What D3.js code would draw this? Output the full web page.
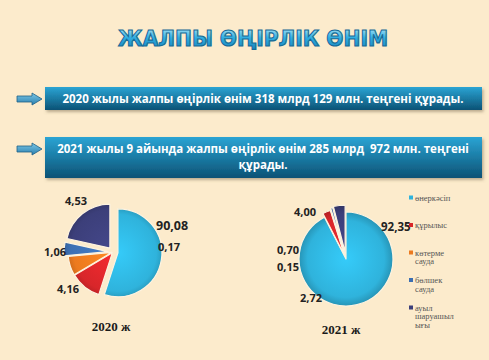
<!DOCTYPE html>
<html>
<head>
<meta charset="utf-8">
<script src="https://cdn.jsdelivr.net/npm/d3@7"></script>
<style>
  body { margin: 0; background: #fcebcc; }
  svg { display: block; }
  text { white-space: pre; }
</style>
</head>
<body>
<script>
// categories (legend order)
var categories = ["өнеркәсіп", "құрылыс", "көтерме сауда", "бөлшек сауда", "ауыл шаруашылығы"];
var legendLines = [["өнеркәсіп"], ["құрылыс"], ["көтерме", "сауда"], ["бөлшек", "сауда"], ["ауыл", "шаруашыл", "ығы"]];
// 2020: slice shares as drawn in the picture, and the printed labels
var share2020 = [55, 11.5, 7, 5, 21.5];
var labels2020 = ["90,08", "4,16", "0,17", "1,06", "4,53"];
// 2021: shares = labels
var share2021 = [92.35, 2.72, 0.15, 0.70, 4.00];
var labels2021 = ["92,35", "2,72", "0,15", "0,70", "4,00"];
var years = ["2020 ж", "2021 ж"];
var title = "ЖАЛПЫ ӨҢІРЛІК ӨНІМ";
var notes = [["2020 жылы жалпы өңірлік өнім 318 млрд 129 млн. теңгені құрады."],
             ["2021 жылы 9 айында жалпы өңірлік өнім 285 млрд  972 млн. теңгені", "құрады."]];

var W = 489, H = 360;
var svg = d3.select("body").append("svg").attr("width", W).attr("height", H);
var defs = svg.append("defs");

var colors = ["#2fb3dc", "#d8262a", "#ec7a1f", "#3c6fb2", "#3c3f7a"];
var color = d3.scaleOrdinal().domain(categories).range(colors);

// gradients
var tg = defs.append("linearGradient").attr("id", "tg").attr("x1", 0).attr("y1", 0).attr("x2", 0).attr("y2", 1);
tg.append("stop").attr("offset", "0%").attr("stop-color", "#b4e8f8");
tg.append("stop").attr("offset", "45%").attr("stop-color", "#30ade0");
tg.append("stop").attr("offset", "100%").attr("stop-color", "#1580b9");

var bg = defs.append("linearGradient").attr("id", "bg").attr("x1", 0).attr("y1", 0).attr("x2", 0).attr("y2", 1);
bg.append("stop").attr("offset", "0%").attr("stop-color", "#2ba4d4");
bg.append("stop").attr("offset", "100%").attr("stop-color", "#0b5275");

var ag = defs.append("linearGradient").attr("id", "ag").attr("x1", 0).attr("y1", 0).attr("x2", 0).attr("y2", 1);
ag.append("stop").attr("offset", "0%").attr("stop-color", "#7cc7e6");
ag.append("stop").attr("offset", "100%").attr("stop-color", "#2a7fae");

var sh = defs.append("filter").attr("id", "sh").attr("x", "-5%").attr("y", "-20%").attr("width", "110%").attr("height", "150%");
sh.append("feDropShadow").attr("dx", 1.5).attr("dy", 2).attr("stdDeviation", 1.5).attr("flood-color", "#7a6a50").attr("flood-opacity", 0.5);

colors.forEach(function(c, i) {
  var g = defs.append("radialGradient").attr("id", "pg" + i)
    .attr("gradientUnits", "userSpaceOnUse").attr("cx", 0).attr("cy", 0).attr("r", 48);
  g.append("stop").attr("offset", "0%").attr("stop-color", d3.color(c).brighter(0.35));
  g.append("stop").attr("offset", "80%").attr("stop-color", c);
  g.append("stop").attr("offset", "100%").attr("stop-color", d3.color(c).darker(0.6));
});

// title
svg.append("text")
  .attr("x", 253).attr("y", 46)
  .attr("text-anchor", "middle")
  .attr("font-family", "DejaVu Sans").attr("font-weight", "bold").attr("font-size", 21)
  .attr("textLength", 270).attr("lengthAdjust", "spacingAndGlyphs")
  .attr("fill", "url(#tg)").attr("stroke", "#176a96").attr("stroke-width", 1.1)
  .text(title);

// note boxes
var boxes = [{y: 87, h: 23}, {y: 137, h: 41}];
boxes.forEach(function(b, i) {
  svg.append("rect").attr("x", 45).attr("y", b.y).attr("width", 437).attr("height", b.h)
    .attr("fill", "url(#bg)").attr("filter", "url(#sh)");
  var ay = b.y + 12;
  svg.append("path")
    .attr("d", "M17," + (ay - 3) + "H32V" + (ay - 6) + "L42," + ay + "L32," + (ay + 6) + "V" + (ay + 3) + "H17Z")
    .attr("fill", "url(#ag)").attr("stroke", "#1e5f86").attr("stroke-width", 0.8);
  var t = svg.append("text").attr("text-anchor", "middle")
    .attr("font-family", "Open Sans").attr("font-weight", "bold").attr("font-size", 11.5)
    .attr("fill", "#fff");
  notes[i].forEach(function(line, j) {
    t.append("tspan").attr("x", 263).attr("y", b.y + (i == 0 ? 16 : 15.5 + j * 16)).text(line);
  });
});

var pie = d3.pie().sort(null).value(function(d) { return d; });
var arc = d3.arc().innerRadius(0);

function drawPie(cx, cy, r, shares, explode) {
  var g = svg.append("g").attr("transform", "translate(" + cx + "," + cy + ")");
  pie(shares).forEach(function(a, i) {
    var mid = (a.startAngle + a.endAngle) / 2;
    var off = explode[i];
    g.append("path")
      .attr("transform", "translate(" + (Math.sin(mid) * off) + "," + (-Math.cos(mid) * off) + ")")
      .attr("d", arc.outerRadius(r)(a))
      .attr("fill", "url(#pg" + i + ")")
      .attr("stroke", "#fdf3e0").attr("stroke-width", 1.2).attr("stroke-linejoin", "round");
  });
}

drawPie(113, 252, 44, share2020, [5, 1, 1, 5, 5]);
drawPie(346, 259, 47, share2021, [0, 4, 4, 6, 7]);

function labels(list, pos) {
  list.forEach(function(l, i) {
    svg.append("text").attr("x", pos[i][0]).attr("y", pos[i][1])
      .attr("font-family", "Open Sans").attr("font-weight", "bold")
      .attr("font-size", pos[i][2] || 11).attr("fill", "#222").text(l);
  });
}
labels(labels2020, [[156, 230, 12.5], [57, 293], [158, 251], [44, 256], [65, 205]]);
labels(labels2021, [[381, 231, 11.5], [300, 302], [277, 271], [277, 254], [294, 216]]);

// year captions
[[111, 331], [341, 334]].forEach(function(p, i) {
  svg.append("text").attr("x", p[0]).attr("y", p[1]).attr("text-anchor", "middle")
    .attr("font-family", "Liberation Serif").attr("font-weight", "bold").attr("font-size", 13)
    .attr("fill", "#1a1a1a").text(years[i]);
});

// legend
var ly = d3.scalePoint().domain(categories).range([198, 308]);
categories.forEach(function(c, i) {
  var y = ly(c);
  svg.append("rect").attr("x", 409).attr("y", y - 2.5).attr("width", 4).attr("height", 4).attr("fill", color(c));
  var t = svg.append("text").attr("font-family", "Liberation Serif").attr("font-size", 8.5).attr("fill", "#555");
  legendLines[i].forEach(function(line, j) {
    t.append("tspan").attr("x", 415).attr("y", y + 2.5 + j * 8.5).text(line);
  });
});
</script>
</body>
</html>
